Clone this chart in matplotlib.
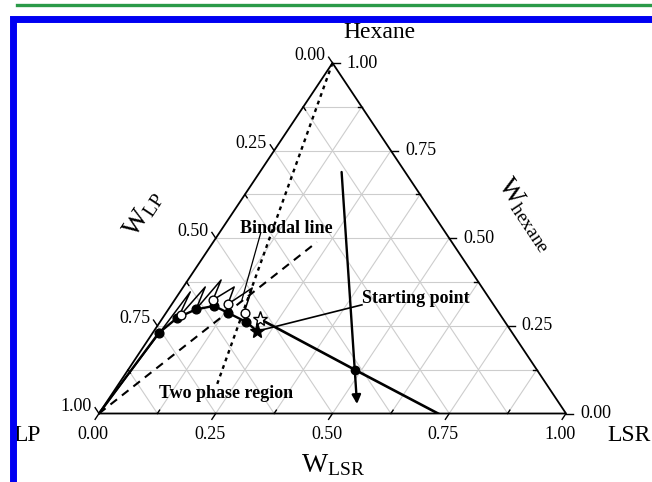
import numpy as np
import matplotlib
matplotlib.use("Agg")
import matplotlib.pyplot as plt
from matplotlib.patches import Rectangle
from matplotlib.lines import Line2D

plt.rcParams["font.family"] = ["Liberation Serif", "DejaVu Serif"]
plt.rcParams["mathtext.fontset"] = "custom"
plt.rcParams["mathtext.rm"] = "Liberation Serif"
plt.rcParams["mathtext.it"] = "Liberation Serif:italic"
plt.rcParams["mathtext.bf"] = "Liberation Serif:bold"

# Compositions are mass fractions (w_LSR, w_hexane); w_LP = 1 - w_LSR - w_hexane
# LP-rich phase (filled circles, solid curve)
lp_phase_lsr = [0.000, 0.013, 0.031, 0.059, 0.093, 0.133, 0.185]
lp_phase_hex = [0.000, 0.229, 0.273, 0.297, 0.307, 0.287, 0.261]
# hexane-rich side (open circles)
hex_phase_lsr = [0.035, 0.082, 0.120, 0.169]
hex_phase_hex = [0.281, 0.324, 0.311, 0.286]
# fitted binodal line
binodal_lsr = [0.000, 0.022, 0.033, 0.047, 0.059, 0.071, 0.082, 0.109, 0.120, 0.149, 0.167]
binodal_hex = [0.000, 0.347, 0.273, 0.361, 0.298, 0.381, 0.324, 0.361, 0.312, 0.358, 0.287]
# feed / mixture points
star_open = (0.209, 0.270)
star_filled = (0.221, 0.235)
mix_point = (0.487, 0.124)
product_end = (0.726, 0.000)
arrow_start = (0.175, 0.689)
arrow_end = (0.539, 0.027)
dashed_start = (0.000, 0.000)
dashed_end = (0.222, 0.489)
dotted_start = (0.000, 1.000)
dotted_end = (0.212, 0.080)
# annotation anchors
binodal_ptr = [(0.089, 0.514), (0.144, 0.324)]
start_ptr_end = (0.408, 0.310)

major_ticks = [0.0, 0.25, 0.5, 0.75, 1.0]
minor_ticks = [0.125, 0.375, 0.625, 0.875]
tick_labels = ["0.00", "0.25", "0.50", "0.75", "1.00"]
grid_levels = [0.125, 0.25, 0.375, 0.5, 0.625, 0.75, 0.875]

FIG_W, FIG_H = 652, 482
fig = plt.figure(figsize=(FIG_W / 100, FIG_H / 100), dpi=100)
fig.patch.set_facecolor("white")

# triangle placement in pixels
TRI_L, TRI_R, TRI_BOT, TRI_TOP = 99, 566, 413.5, 63
PX_X = TRI_R - TRI_L
PX_Y = TRI_BOT - TRI_TOP
ax = fig.add_axes([TRI_L / FIG_W, (FIG_H - TRI_BOT) / FIG_H, PX_X / FIG_W, PX_Y / FIG_H])
ax.set_xlim(0, 1)
ax.set_ylim(0, 1)
ax.axis("off")


def xy(lsr, hexa):
    lsr = np.asarray(lsr, float)
    hexa = np.asarray(hexa, float)
    return lsr + hexa / 2, hexa


def pvec(dx, dy):
    return dx / PX_X, dy / PX_Y


GRID = "#cdcdcd"
for v in grid_levels:
    ax.plot(*xy([0, 1 - v], [v, v]), color=GRID, lw=0.8, zorder=1)
    ax.plot(*xy([v, v], [0, 1 - v]), color=GRID, lw=0.8, zorder=1)
    ax.plot(*xy([1 - v, 0], [0, 1 - v]), color=GRID, lw=0.8, zorder=1)

ax.plot(*xy([0, 1, 0, 0], [0, 0, 1, 0]), color="black", lw=1.3, zorder=3,
        clip_on=False, solid_joinstyle="miter")

# tick directions in pixel space
s = np.hypot(0.5 * PX_X, PX_Y)
d_bottom = (-0.5 * PX_X / s, -PX_Y / s)
d_left = (-0.5 * PX_X / s, PX_Y / s)
d_right = (1.0, 0.0)
MAJ, MIN = 7, 4


def tick(base, d, length):
    bx, by = base
    ex, ey = pvec(d[0] * length, d[1] * length)
    ax.plot([bx, bx + ex], [by, by + ey], color="black", lw=1.0, zorder=3, clip_on=False)


TK = dict(fontsize=13, zorder=5, annotation_clip=False)
for v, lab in zip(major_ticks, tick_labels):
    # bottom: w_LSR
    b = xy(v, 0.0)
    tick(b, d_bottom, MAJ)
    ax.annotate(lab, xy=b, xytext=(-6, -21), textcoords="offset pixels",
                ha="center", va="center", **TK)
    # right: w_hexane
    b = xy(1 - v, v)
    tick(b, d_right, MAJ)
    ax.annotate(lab, xy=b, xytext=(14, 0), textcoords="offset pixels",
                ha="left", va="center", **TK)
    # left: w_LP
    b = xy(0.0, 1 - v)
    tick(b, d_left, MAJ)
    ax.annotate(lab, xy=b, xytext=(-7, 7), textcoords="offset pixels",
                ha="right", va="center", **TK)

for v in minor_ticks:
    tick(xy(v, 0.0), (-d_bottom[0], -d_bottom[1]), MIN)
    tick(xy(1 - v, v), (-1, 0), MIN)
    tick(xy(0.0, 1 - v), (-d_left[0], -d_left[1]), MIN)

# vertex and axis titles
CT = dict(fontsize=17, zorder=5, annotation_clip=False, ha="center", va="center")
ax.annotate("LP", xy=xy(0, 0), xytext=(-72, -22), textcoords="offset pixels", **CT)
ax.annotate("LSR", xy=xy(1, 0), xytext=(63, -22), textcoords="offset pixels", **CT)
ax.annotate("Hexane", xy=xy(0, 1), xytext=(47, 30), textcoords="offset pixels", **CT)
AT = dict(fontsize=20, zorder=5, annotation_clip=False, ha="center", va="center")
ax.annotate(r"$\mathrm{W}_{\mathrm{LSR}}$", xy=xy(0.5, 0), xytext=(1, -52),
            textcoords="offset pixels", **AT)
ang = np.degrees(np.arctan2(PX_Y, 0.5 * PX_X))
ax.annotate(r"$\mathrm{W}_{\mathrm{LP}}$", xy=xy(0, 0.5), xytext=(-72, 24),
            textcoords="offset pixels", rotation=ang, rotation_mode="anchor", **AT)
ax.annotate(r"$\mathrm{W}_{\mathrm{hexane}}$", xy=xy(0.5, 0.5), xytext=(76, 24),
            textcoords="offset pixels", rotation=-ang, rotation_mode="anchor", **AT)

# reference lines
ax.plot(*xy([dashed_start[0], dashed_end[0]], [dashed_start[1], dashed_end[1]]),
        color="black", lw=1.5, ls=(0, (4, 3)), zorder=4)
ax.plot(*xy([dotted_start[0], dotted_end[0]], [dotted_start[1], dotted_end[1]]),
        color="black", lw=1.7, ls=(0, (1.6, 1.8)), zorder=4)

# binodal line and phase curve
ax.plot(*xy(binodal_lsr, binodal_hex), color="black", lw=1.1, zorder=5)
ax.plot(*xy(lp_phase_lsr + [star_filled[0]], lp_phase_hex + [star_filled[1]]),
        color="black", lw=1.7, zorder=5)

# mixing line through the feed
ax.plot(*xy([star_open[0], mix_point[0], product_end[0]],
            [star_open[1], mix_point[1], product_end[1]]),
        color="black", lw=1.9, zorder=5)
ax.plot(*xy([star_filled[0], start_ptr_end[0]], [star_filled[1], start_ptr_end[1]]),
        color="black", lw=1.2, zorder=5)
ax.plot(*xy([p[0] for p in binodal_ptr], [p[1] for p in binodal_ptr]),
        color="black", lw=0.9, zorder=5)

# arrow
ax.annotate("", xy=xy(*arrow_end), xytext=xy(*arrow_start),
            arrowprops=dict(arrowstyle="-|>", color="black", lw=1.7,
                            mutation_scale=13, shrinkA=0, shrinkB=0),
            zorder=6)

# markers
ax.plot(*xy(lp_phase_lsr[1:], lp_phase_hex[1:]), ls="none", marker="o", ms=6.3,
        mfc="black", mec="black", zorder=7)
ax.plot(*xy(hex_phase_lsr, hex_phase_hex), ls="none", marker="o", ms=6.3,
        mfc="white", mec="black", mew=1.0, zorder=7)
ax.plot(*xy(*mix_point), ls="none", marker="o", ms=6.0, mfc="black", mec="black", zorder=7)
ax.plot(*xy(*star_open), ls="none", marker="*", ms=11, mfc="white", mec="black",
        mew=1.0, zorder=7)
ax.plot(*xy(*star_filled), ls="none", marker="*", ms=11, mfc="black", mec="black",
        zorder=7)

# labels inside the diagram
BT = dict(fontsize=13, fontweight="bold", zorder=8, va="center")
ax.text(*xy(0.037, 0.529), "Binodal line", ha="left", **BT)
ax.text(*xy(0.399, 0.327), "Starting point", ha="left", **BT)
ax.text(*xy(0.244, 0.057), "Two phase region", ha="center", **BT)

# page decorations: green rule and blue frame
fig.add_artist(Line2D([17 / FIG_W, 1], [1 - 5 / FIG_H, 1 - 5 / FIG_H],
                      transform=fig.transFigure, color="#2a9a48", lw=2.4))
fig.add_artist(Rectangle((12.5 / FIG_W, -0.2), 1.5, (1 - 19.5 / FIG_H) + 0.2,
                         transform=fig.transFigure, fill=False,
                         edgecolor="#0000f2", lw=5.0))

fig.savefig("out.png", dpi=100, facecolor="white")
